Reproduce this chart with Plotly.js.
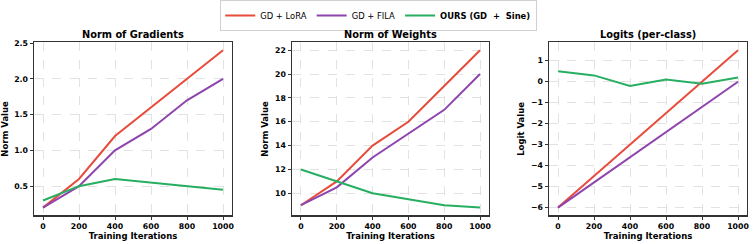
<!DOCTYPE html>
<html><head><meta charset="utf-8">
<script src="https://cdn.plot.ly/plotly-3.0.1.min.js"></script>
<style>html,body{margin:0;padding:0;background:#fff}#c{width:753px;height:244px}</style>
</head><body><div id="c"></div>
<script>
const iterations = [0, 200, 400, 600, 800, 1000];
const seriesNames = ['GD + LoRA', 'GD + FILA', '<b>OURS (GD\u00a0\u00a0+\u00a0\u00a0Sine)</b>'];
const colors = ['#e74c3c', '#8e44ad', '#27ae60'];

const gradLoRA = [0.2, 0.6, 1.2, 1.6, 2.0, 2.4];
const gradFILA = [0.2, 0.5, 1.0, 1.3, 1.7, 2.0];
const gradOurs = [0.3, 0.5, 0.6, 0.55, 0.5, 0.45];

const weightLoRA = [9, 11, 14, 16, 19, 22];
const weightFILA = [9, 10.5, 13, 15, 17, 20];
const weightOurs = [12, 11, 10, 9.5, 9, 8.8];

const logitLoRA = [-6, -4.5, -3, -1.5, 0, 1.5];
const logitFILA = [-6, -4.8, -3.6, -2.4, -1.2, 0];
const logitOurs = [0.5, 0.3, -0.2, 0.1, -0.1, 0.2];

const panelTitles = ['Norm of Gradients', 'Norm of Weights', 'Logits (per-class)'];
const yTitles = ['Norm Value', 'Norm Value', 'Logit Value'];

const panels = [[gradLoRA, gradFILA, gradOurs], [weightLoRA, weightFILA, weightOurs], [logitLoRA, logitFILA, logitOurs]];

const W = 753, H = 244;
const xpx = [[34, 232], [292, 489], [549, 747]];
const ytop = 39, ybot = 215;
const ydom = [1 - ybot / H, 1 - ytop / H];
const yranges = [[0.09, 2.51], [8.14, 22.66], [-6.375, 1.875]];
const ydticks = [0.5, 2, 1];
const ytick0 = [0.5, 10, -6];

const traces = [];
panels.forEach((p, i) => {
  p.forEach((vals, s) => {
    traces.push({
      x: iterations, y: vals, type: 'scatter', mode: 'lines',
      name: seriesNames[s], legendgroup: 'g' + s, showlegend: i === 0,
      line: {color: colors[s], width: 2},
      xaxis: 'x' + (i ? i + 1 : ''), yaxis: 'y' + (i ? i + 1 : '')
    });
  });
});

const tickFont = {family: 'DejaVu Sans', size: 7.8, weight: 'bold', color: '#000'};
const axTitleFont = {family: 'DejaVu Sans', size: 8.5, weight: 'bold', color: '#000'};
const layout = {
  width: W, height: H, margin: {l: 0, r: 0, t: 0, b: 0},
  paper_bgcolor: '#fff', plot_bgcolor: '#fff',
  font: {family: 'DejaVu Sans', size: 8.4, color: '#000'},
  showlegend: true,
  legend: {orientation: 'h', x: 0.503, xanchor: 'center', y: 1 - 11.5 / H, yanchor: 'middle',
    bordercolor: '#d0d0d0', borderwidth: 1, bgcolor: '#fff',
    font: {family: 'DejaVu Sans', size: 8.4, color: '#000'}, itemwidth: 30, tracegroupgap: 0},
  annotations: []
};
for (let i = 0; i < 3; i++) {
  const sx = i ? String(i + 1) : '';
  const xd = [xpx[i][0] / W, xpx[i][1] / W];
  layout['xaxis' + sx] = {
    domain: xd, anchor: 'y' + sx, range: [-50, 1050],
    tickmode: 'array', tickvals: iterations, ticktext: iterations.map(String),
    showline: true, mirror: true, linecolor: '#333', linewidth: 1.2,
    ticks: 'outside', ticklen: 3, tickcolor: '#333', tickwidth: 1,
    tickfont: tickFont,
    showgrid: true, gridcolor: '#d5d5d5', griddash: 'dash', gridwidth: 0.7, zeroline: false,
    title: {text: 'Training Iterations', standoff: 0, font: axTitleFont}
  };
  layout['yaxis' + sx] = {
    domain: ydom, anchor: 'x' + sx, range: yranges[i],
    tick0: ytick0[i], dtick: ydticks[i], tickformat: i === 0 ? '.1f' : 'd',
    showline: true, mirror: true, linecolor: '#333', linewidth: 1.2,
    ticks: 'outside', ticklen: 3.3, tickcolor: '#333', tickwidth: 1,
    tickfont: tickFont,
    showgrid: true, gridcolor: '#d5d5d5', griddash: 'dash', gridwidth: 0.7, zeroline: false,
    title: {text: yTitles[i], standoff: 5, font: axTitleFont}
  };
  layout.annotations.push({
    text: '<b>' + panelTitles[i] + '</b>', xref: 'paper', yref: 'paper',
    x: (xd[0] + xd[1]) / 2, xanchor: 'center', y: 1 - 31 / H, yanchor: 'middle',
    showarrow: false, font: {family: 'DejaVu Sans', size: 9.8, color: '#000'}
  });
}
Plotly.newPlot('c', traces, layout, {displayModeBar: false, staticPlot: true});
</script></body></html>
